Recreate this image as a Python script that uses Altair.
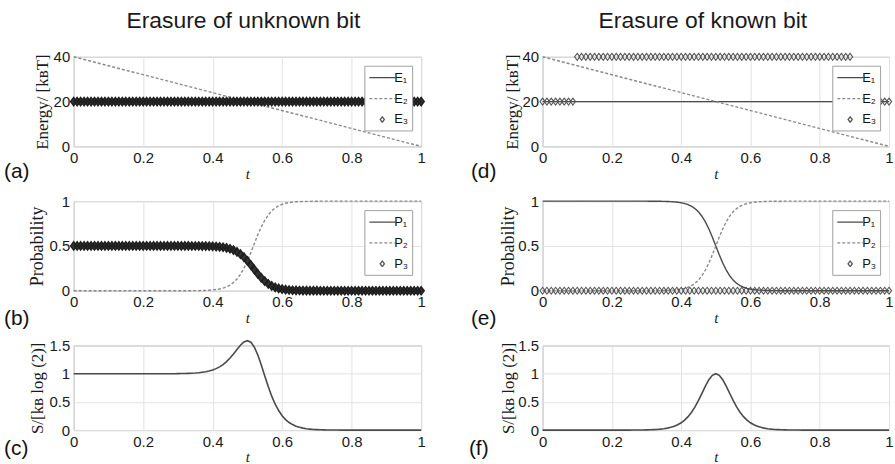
import altair as alt
import pandas as pd

# ---------------- values ----------------
T = [round(i * 0.01, 2) for i in range(101)]          # curve sampling grid
T_MARK = [round(i * 0.0125, 4) for i in range(81)]    # marker grid of panels (d), (e)
LINE_T = [0.0, 1.0]
X_TICKS = [0, 0.2, 0.4, 0.6, 0.8, 1]

TITLES = ["Erasure of unknown bit", "Erasure of known bit"]
LABELS = ["(a)", "(b)", "(c)", "(d)", "(e)", "(f)"]
E_NAMES = ["E₁", "E₂", "E₃"]
P_NAMES = ["P₁", "P₂", "P₃"]

# energies
E1 = [20, 20]
E2 = [40, 0]
E3_UNKNOWN = [20] * 101
E3_KNOWN = [20] * 8 + [40] * 64 + [20] * 9

# probabilities, unknown bit
P1_UNKNOWN = ([0.5] * 34 +
              [0.4996, 0.4994, 0.4991, 0.4986, 0.498, 0.497, 0.4955, 0.4933, 0.49, 0.4853,
               0.4783, 0.4683, 0.4542, 0.4345, 0.4085, 0.3745, 0.3333, 0.2865, 0.2365, 0.188,
               0.144, 0.1065, 0.077, 0.054, 0.0375, 0.026, 0.0175, 0.012, 0.008, 0.0055,
               0.0035, 0.0025, 0.0015, 0.001, 0.001, 0.0005, 0.0005] +
              [0.0] * 30)
P2_UNKNOWN = ([0.0] * 34 +
              [0.0008, 0.0012, 0.0018, 0.0028, 0.0041, 0.0061, 0.0091, 0.0135, 0.020, 0.0295,
               0.0434, 0.0634, 0.0917, 0.131, 0.183, 0.251, 0.333, 0.427, 0.527, 0.624,
               0.712, 0.787, 0.846, 0.892, 0.925, 0.948, 0.965, 0.976, 0.984, 0.989,
               0.993, 0.995, 0.997, 0.998, 0.998, 0.999, 0.999] +
              [1.0] * 30)
P3_UNKNOWN = list(P1_UNKNOWN)
S_UNKNOWN = ([1.0] * 30 +
             [1.002, 1.003, 1.004, 1.006, 1.009, 1.012, 1.017, 1.025, 1.034, 1.048,
              1.066, 1.090, 1.121, 1.162, 1.214, 1.277, 1.351, 1.429, 1.504, 1.562,
              1.585, 1.558, 1.471, 1.331, 1.154, 0.960, 0.774, 0.602, 0.459, 0.347,
              0.254, 0.187, 0.134, 0.098, 0.070, 0.050, 0.035, 0.025, 0.018, 0.012,
              0.009, 0.006, 0.004, 0.003, 0.002, 0.0014, 0.001, 0.0005, 0.0005, 0.0005] +
             [0.0] * 21)

# probabilities, known bit
P2_KNOWN = ([0.0] * 30 +
            [0.0003, 0.0005, 0.0008, 0.0011, 0.0017, 0.0025, 0.0037, 0.0055, 0.0082, 0.0121,
             0.018, 0.0266, 0.0392, 0.0573, 0.0832, 0.1192, 0.168, 0.2315, 0.31, 0.4013,
             0.5, 0.5987, 0.69, 0.7685, 0.832, 0.8808, 0.9168, 0.9427, 0.9608, 0.9734,
             0.982, 0.9879, 0.9918, 0.9945, 0.9963, 0.9975, 0.9983, 0.9989, 0.9992, 0.9995,
             0.9997] +
            [1.0] * 30)
P1_KNOWN = ([1.0] * 30 +
            [0.9997, 0.9995, 0.9992, 0.9989, 0.9983, 0.9975, 0.9963, 0.9945, 0.9918, 0.9879,
             0.982, 0.9734, 0.9608, 0.9427, 0.9168, 0.8808, 0.832, 0.7685, 0.69, 0.5987,
             0.5, 0.4013, 0.31, 0.2315, 0.168, 0.1192, 0.0832, 0.0573, 0.0392, 0.0266,
             0.018, 0.0121, 0.0082, 0.0055, 0.0037, 0.0025, 0.0017, 0.0011, 0.0008, 0.0005,
             0.0003] +
            [0.0] * 30)
P3_KNOWN = [0.0] * 81
S_KNOWN = ([0.0] * 25 +
           [0.0007, 0.001, 0.0015, 0.0021, 0.003, 0.0044, 0.0062, 0.0089, 0.0124, 0.0177,
            0.0252, 0.0352, 0.0492, 0.0686, 0.0946, 0.130, 0.1771, 0.2386, 0.3167, 0.4133,
            0.5271, 0.6531, 0.7807, 0.8933, 0.9716, 1.0, 0.9716, 0.8933, 0.7807, 0.6531,
            0.5271, 0.4133, 0.3167, 0.2386, 0.1771, 0.130, 0.0946, 0.0686, 0.0492, 0.0352,
            0.0252, 0.0177, 0.0124, 0.0089, 0.0062, 0.0044, 0.003, 0.0021, 0.0015, 0.001,
            0.0007] +
           [0.0] * 25)

# ---------------- styling ----------------
C_SOLID = "#4a4a4a"
C_DASH = "#8a8a8a"
DIAMOND = "M0,-0.4L0.3,0L0,0.4L-0.3,0Z"
LEGLINE = "M-1.85,0L1.85,0"
SERIF = "Liberation Serif"
SANS = "Liberation Sans"


def x_enc():
    return alt.X("t:Q", scale=alt.Scale(domain=[0, 1], nice=False, zero=False),
                 axis=alt.Axis(values=X_TICKS, format="~g", title="t", titleFont=SERIF,
                               titleFontStyle="italic", titleFontSize=15, titlePadding=1))


def y_enc(domain, ticks, fmt, title, size, pad):
    return alt.Y("v:Q", scale=alt.Scale(domain=domain, nice=False, zero=False),
                 axis=alt.Axis(values=ticks, format=fmt, title=title, titleFont=SERIF,
                               titleFontSize=size, titlePadding=pad))


def label_layer(text, lx, ly):
    return alt.Chart(pd.DataFrame({"lab": [text]})).mark_text(
        align="left", baseline="middle", font=SANS, fontSize=21, color="#111111"
    ).encode(text="lab:N", x=alt.value(lx), y=alt.value(ly))


def legend_panel(lines_df, marks_df, names, ydom, yticks, fmt, ytitle, ysize, ypad,
                 w, h, label, lx, ly, mcolor, msize, mwidth, mfill=None, title=None):
    leg = alt.Legend(title=None, orient="top-right", offset=9, padding=4,
                     symbolSize=196, symbolOffset=6, labelOffset=4, rowPadding=6,
                     labelFont=SANS, labelFontSize=13, labelColor="#111111",
                     strokeColor="#a0a0a0", fillColor="white", symbolStrokeWidth=1.3)
    ye = y_enc(ydom, yticks, fmt, ytitle, ysize, ypad)
    lines = alt.Chart(lines_df).mark_line(strokeWidth=1.4).encode(
        x=x_enc(), y=ye,
        color=alt.Color("s:N", scale=alt.Scale(domain=names, range=[C_SOLID, C_DASH, "#555555"]),
                        legend=leg),
        strokeDash=alt.StrokeDash("s:N", scale=alt.Scale(domain=names,
                                                         range=[[1, 0], [3, 2], [1, 0]]),
                                  legend=leg),
    )
    layers = [lines]
    if mfill is not None:
        # dark interior of the densely packed markers (no legend of its own)
        layers.append(alt.Chart(marks_df).mark_point(
            filled=True, shape=DIAMOND, size=msize, color=mfill, opacity=1
        ).encode(x=x_enc(), y=ye))
    marks = alt.Chart(marks_df).mark_point(filled=False, size=msize, strokeWidth=mwidth,
                                           color=mcolor, opacity=1).encode(
        x=x_enc(), y=ye,
        shape=alt.Shape("s:N", scale=alt.Scale(domain=names,
                                               range=[LEGLINE, LEGLINE, DIAMOND]),
                        legend=leg),
    )
    layers += [marks, label_layer(label, lx, ly)]
    ch = alt.layer(*layers).properties(width=w, height=h)
    if title is not None:
        ch = ch.properties(title=title)
    return ch


def entropy_panel(df, w, h, ypad, label, lx, ly):
    line = alt.Chart(df).mark_line(strokeWidth=1.6, color=C_SOLID).encode(
        x=x_enc(), y=y_enc([0, 1.5], [0, 0.5, 1, 1.5], "~g", "S/[kʙ log (2)]", 17, ypad))
    return alt.layer(line, label_layer(label, lx, ly)).properties(width=w, height=h)


def col_title(text, dx):
    return alt.TitleParams(text, font=SANS, fontSize=23, fontWeight="normal", color="#1a1a1a",
                           anchor="middle", frame="group", dx=dx, offset=-1,
                           baseline="alphabetic")


# ---------------- tables ----------------
energy_lines = pd.DataFrame({"t": LINE_T + LINE_T, "v": E1 + E2,
                             "s": [E_NAMES[0]] * 2 + [E_NAMES[1]] * 2})
energy_marks_a = pd.DataFrame({"t": T, "v": E3_UNKNOWN, "s": E_NAMES[2]})
energy_marks_d = pd.DataFrame({"t": T_MARK, "v": E3_KNOWN, "s": E_NAMES[2]})
prob_lines_b = pd.DataFrame({"t": T + T, "v": P1_UNKNOWN + P2_UNKNOWN,
                             "s": [P_NAMES[0]] * 101 + [P_NAMES[1]] * 101})
prob_marks_b = pd.DataFrame({"t": T, "v": P3_UNKNOWN, "s": P_NAMES[2]})
prob_lines_e = pd.DataFrame({"t": T + T, "v": P1_KNOWN + P2_KNOWN,
                             "s": [P_NAMES[0]] * 101 + [P_NAMES[1]] * 101})
prob_marks_e = pd.DataFrame({"t": T_MARK, "v": P3_KNOWN, "s": P_NAMES[2]})
ent_c = pd.DataFrame({"t": T, "v": S_UNKNOWN})
ent_f = pd.DataFrame({"t": T, "v": S_KNOWN})

WL, WR = 349, 348

pa = legend_panel(energy_lines, energy_marks_a, E_NAMES, [0, 40], [0, 20, 40], "d",
                  "Energy/ [kʙT]", 17, 2, WL, 90, LABELS[0], -70, 116,
                  "#1e1e1e", 440, 1.4, mfill="#333333", title=col_title(TITLES[0], -4))
pd_ = legend_panel(energy_lines, energy_marks_d, E_NAMES, [0, 40], [0, 20, 40], "d",
                   "Energy/ [kʙT]", 17, 0, WR, 90, LABELS[3], -72, 116,
                   "#555555", 300, 1.1, title=col_title(TITLES[1], -13))
pb = legend_panel(prob_lines_b, prob_marks_b, P_NAMES, [0, 1], [0, 0.5, 1], "~g",
                  "Probability", 18, 2, WL, 90, LABELS[1], -70, 118,
                  "#1e1e1e", 440, 1.4, mfill="#333333")
pe = legend_panel(prob_lines_e, prob_marks_e, P_NAMES, [0, 1], [0, 0.5, 1], "~g",
                  "Probability", 18, 0, WR, 90, LABELS[4], -72, 118,
                  "#555555", 300, 1.1)
pc = entropy_panel(ent_c, WL, 85, 2, LABELS[2], -70, 104)
pf = entropy_panel(ent_f, WR, 85, 0, LABELS[5], -74, 104)

chart = alt.concat(pa, pd_, pb, pe, pc, pf, columns=2,
                   spacing=alt.RowColnumber(row=55, column=122), bounds="flush").resolve_scale(
    color="independent", shape="independent", strokeDash="independent"
).resolve_legend(
    color="independent", shape="independent", strokeDash="independent"
).properties(
    padding={"left": 3, "top": 8, "right": 0, "bottom": 0}
).configure(font=SANS).configure_view(
    stroke="#a9a9a9", strokeWidth=1
).configure_axis(
    grid=True, gridColor="#e2e2e2", gridWidth=1, ticks=False, domain=False,
    labelFont=SANS, labelFontSize=15, labelColor="#1a1a1a", labelPadding=4,
    labelFlush=False, labelOverlap=False, titleColor="#1a1a1a", titleFontWeight="normal"
)

chart.save("out.html", embed_options={"renderer": "svg", "actions": False})
